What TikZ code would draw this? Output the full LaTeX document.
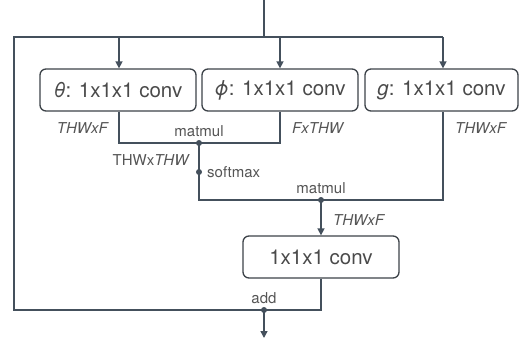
\documentclass[tikz,border=0pt]{standalone}
\usepackage{fontspec}
\setmainfont{TeX Gyre Heros}
\usetikzlibrary{arrows.meta}
\definecolor{linec}{HTML}{44505C}
\definecolor{boxc}{HTML}{3C4248}
\definecolor{txtc}{HTML}{4A4A4A}
\definecolor{lblc}{HTML}{555555}
\tikzset{
  convbox/.style={draw=boxc, line width=1.3pt, rounded corners=6pt, minimum width=156pt, minimum height=42pt, inner sep=0pt, text=txtc, font=\fontsize{20.5}{24}\selectfont},
  wire/.style={draw=linec, line width=1.5pt},
  arr/.style={wire, -{Triangle[length=7pt,width=7pt]}},
  lbl/.style={text=lblc, font=\fontsize{15}{17}\selectfont, inner sep=0pt},
  ilbl/.style={lbl, font=\fontsize{15}{17}\selectfont\itshape},
  dotc/.style={circle, fill=linec, inner sep=0pt, minimum size=6pt}
}
\begin{document}
\begin{tikzpicture}[x=1pt,y=-1pt]
\useasboundingbox (0,0) rectangle (520,341);
% boxes
\node[convbox] (theta) at (118,90) {\textit{θ}: 1x1x1 conv};
\node[convbox] (phi) at (280,90) {\textit{ϕ}: 1x1x1 conv};
\node[convbox, minimum width=153pt] (g) at (441.5,90) {\textit{g}: 1x1x1 conv};
\node[convbox] (conv) at (321,257) {1x1x1 conv};
% coordinates
\coordinate (in) at (264,0);
\coordinate (sp) at (264,37);
\coordinate (tl) at (14,37);
\coordinate (tr) at (443,37);
\coordinate (bl) at (14,310);
\coordinate (out) at (264,338);
\coordinate (tc) at (119,143);
\coordinate (pc) at (280,143);
\coordinate (sc) at (199,200);
\coordinate (gc) at (443,200);
\coordinate (cc) at (321,310);
\node[dotc] (mm1) at (199,143) {};
\node[dotc] (sm) at (199,172) {};
\node[dotc] (mm2) at (321,200) {};
\node[dotc] (add) at (264,310) {};
% wires
\draw[wire] (in) -- (sp);
\draw[wire] (tr) -- (tl) -- (bl) -- (add.center);
\draw[arr] (119,37) -- (theta.north -| 119,0);
\draw[arr] (280,37) -- (phi.north);
\draw[arr] (tr) -- (g.north -| tr);
\draw[wire] (theta.south -| tc) -- (tc) -- (pc) -- (phi.south);
\draw[wire] (mm1.center) -- (sm.center) -- (sc) -- (gc) -- (g.south -| gc);
\draw[arr] (mm2.center) -- (conv.north);
\draw[wire] (conv.south) -- (cc) -- (add.center);
\draw[arr] (add.center) -- (out);
% labels
\node[ilbl, anchor=east] at (108,128) {THWxF};
\node[lbl] at (199,131) {matmul};
\node[ilbl, anchor=west] at (292,128) {FxTHW};
\node[ilbl, anchor=west] at (455,128) {THWxF};
\node[lbl, anchor=east] at (190,160) {THWx\textit{THW}};
\node[lbl, anchor=west] at (207,172) {softmax};
\node[lbl] at (321,188) {matmul};
\node[ilbl, anchor=west] at (333,220) {THWxF};
\node[lbl] at (264,298) {add};
\end{tikzpicture}
\end{document}
